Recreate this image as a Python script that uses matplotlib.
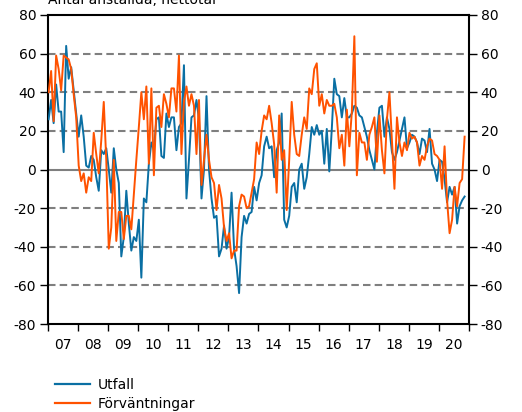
import matplotlib
matplotlib.use("Agg")
import matplotlib.pyplot as plt
from matplotlib.lines import Line2D
import numpy as np

# ---------------- data (monthly, Jan 2007 - Nov 2020) ----------------
start_year = 2007
tick_labels = ["07", "08", "09", "10", "11", "12", "13", "14", "15", "16", "17", "18", "19", "20"]

utfall = [
    26, 36, 24, 44, 30, 30, 9, 64, 47, 53, 41, 29,            # 2007
    17, 28, 17, 2, 1, 7, 5, -4, -11, 10, 8, 11,               # 2008
    0, -12, 11, 0, -7, -45, -35, -11, -28, -42, -35, -37,     # 2009
    -26, -56, -15, -17, 3, 14, 10, 26, 27, 7, 6, 29,          # 2010
    22, 27, 27, 10, 22, 24, 54, -15, 5, 27, 28, 36,           # 2011
    26, -15, 0, 38, 0, -15, -25, -24, -45, -41, -29, -41,     # 2012
    -35, -12, -41, -50, -64, -35, -24, -28, -23, -22, -9, -16,  # 2013
    -7, -3, 12, 17, 11, 12, -4, 10, 14, 29, -26, -30,         # 2014
    -24, -9, -7, -17, 0, 3, -10, -4, 8, 22, 18, 23,           # 2015
    18, 20, 3, 21, -1, 21, 47, 39, 38, 27, 37, 27,            # 2016
    27, 29, 33, 32, 28, 27, 22, 17, 10, 5, 0, 19,             # 2017
    32, 33, 17, 27, 21, 9, 5, 9, 15, 21, 27, 11,              # 2018
    14, 18, 17, 14, 8, 16, 15, 9, 21, 3, 0, -6,               # 2019
    5, 4, -5, -17, -9, -13, -9, -28, -19, -16, -14,           # 2020
]

forvantningar = [
    40, 51, 25, 59, 52, 41, 59, 58, 57, 52, 39, 27,           # 2007
    2, -6, -2, -12, -4, -6, 19, 8, -2, 15, 35, 5,             # 2008
    -41, -30, 5, -37, -22, -22, -36, -24, -24, -31, -13, 5,   # 2009
    22, 40, 26, 43, 3, 42, -3, 32, 33, 22, 39, 34,            # 2010
    27, 42, 42, 30, 59, 8, 35, 43, 33, 39, 33, 8,             # 2011
    36, -8, 5, 18, 5, -4, -7, -21, -8, -15, -30, -37,         # 2012
    -33, -46, -42, -42, -19, -13, -14, -20, -19, -12, -5, 14, # 2013
    8, 20, 28, 26, 33, 24, 13, -12, 28, 5, 10, -21,           # 2014
    5, 35, 18, 8, 7, 18, 27, 21, 42, 39, 52, 55,              # 2015
    33, 39, 29, 36, 33, 33, 34, 27, 11, 18, 2, 31,            # 2016
    12, 30, 69, -3, 19, 14, 14, 5, 18, 22, 27, 4,             # 2017
    28, 10, -2, 26, 40, 15, -10, 27, 14, 7, 14, 10,           # 2018
    19, 16, 17, 14, 2, 7, 5, 12, 16, 15, 8, 7,                # 2019
    5, -10, 12, -16, -33, -26, -9, -19, -7, -5, 17,           # 2020
]

series_labels = ["Utfall", "Förväntningar"]
title = "Antal anställda, nettotal"

# ---------------- styling ----------------
BLUE = "#0a6fa3"
ORANGE = "#ff5200"
GRID = "#7f7f7f"
FS = 10

plt.rcParams["font.family"] = ["DejaVu Sans"]

W, H = 522, 412
fig = plt.figure(figsize=(W / 100, H / 100), dpi=100)
L, R, T, B = 48, 469, 15, 324
ax = fig.add_axes([L / W, 1 - B / H, (R - L) / W, (B - T) / H])

x_u = start_year + (np.arange(len(utfall)) + 0.25) / 12
x_f = start_year + (np.arange(len(forvantningar)) + 0.25) / 12

ax.set_xlim(start_year, start_year + len(tick_labels))
ax.set_ylim(-80, 80)

for v in [-60, -40, -20, 20, 40, 60]:
    ax.axhline(v, color=GRID, lw=1.5, ls=(0, (3.6, 2.0)), zorder=1)
ax.axhline(0, color=GRID, lw=1.5, zorder=1)

ax.plot(x_u, utfall, color=BLUE, lw=1.4, zorder=3, solid_joinstyle="round")
ax.plot(x_f, forvantningar, color=ORANGE, lw=1.4, zorder=4, solid_joinstyle="round")

# x axis: ticks at year boundaries, labels at mid-year
years = np.arange(start_year, start_year + len(tick_labels) + 1)
ax.set_xticks(years)
ax.set_xticklabels([])
ax.set_xticks(years[:-1] + 0.5, minor=True)
ax.set_xticklabels(tick_labels, minor=True, fontsize=FS)
ax.tick_params(axis="x", which="major", length=5, width=1.0, direction="out")
ax.tick_params(axis="x", which="minor", length=0, pad=10)

yt = list(range(-80, 81, 20))
ax.set_yticks(yt)
ax.set_yticklabels([str(v) for v in yt], fontsize=FS)
ax.tick_params(axis="y", which="major", length=6, width=1.0, direction="out",
               left=True, right=True, labelleft=True, labelright=True, pad=2.5)

for s in ax.spines.values():
    s.set_linewidth(1.5)
    s.set_color("black")

fig.text(L / W, 1 - 4 / H, title, fontsize=FS, ha="left", va="baseline")

handles = [Line2D([], [], color=BLUE, lw=1.6), Line2D([], [], color=ORANGE, lw=1.6)]
fig.legend(handles, series_labels, loc="upper left",
           bbox_to_anchor=(55 / W, 1 - 378 / H), frameon=False, fontsize=FS,
           handlelength=2.5, handletextpad=0.6, labelspacing=0.35,
           borderpad=0, borderaxespad=0)

fig.savefig("out.png", dpi=100)
